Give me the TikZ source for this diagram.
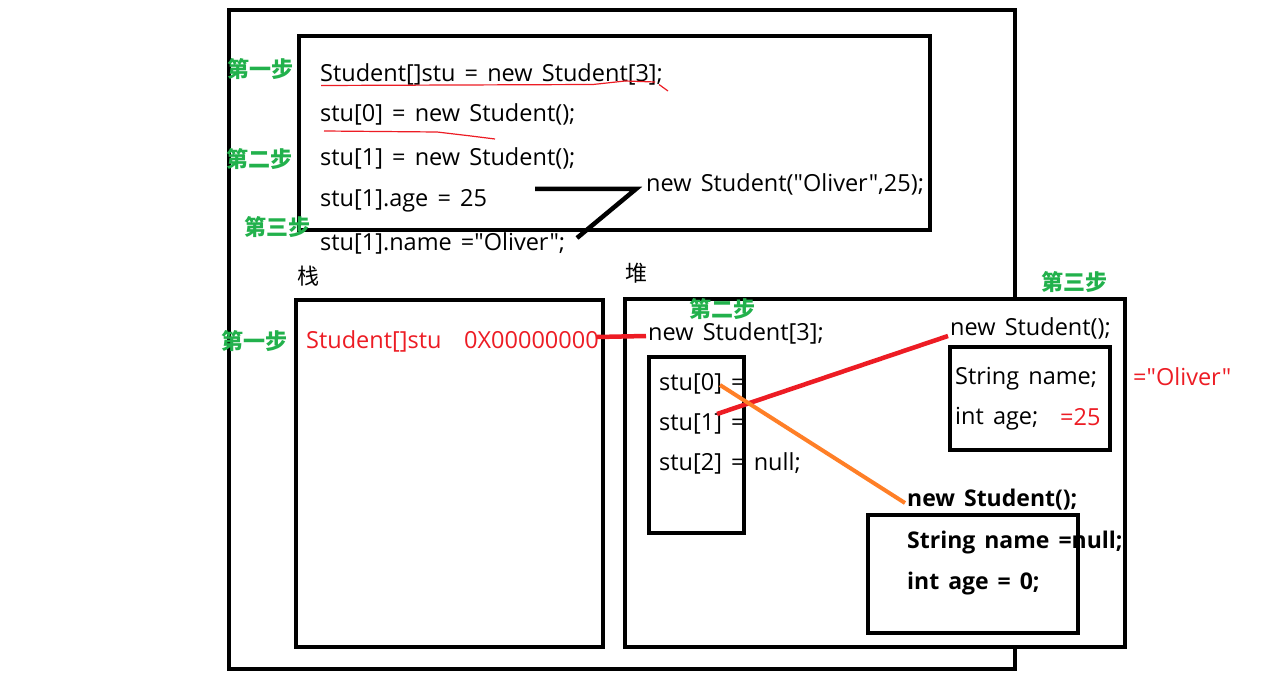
\documentclass[tikz,border=0pt]{standalone}
\usepackage{fontspec}
\setmainfont{Open Sans}[Ligatures=TeXOff, WordSpace=1.5]
\newfontfamily\cjk{Noto Sans CJK SC}
\definecolor{pgreen}{RGB}{34,177,76}
\definecolor{pred}{RGB}{237,28,36}
\definecolor{porange}{RGB}{255,127,39}
\begin{document}
\begin{tikzpicture}[x=1pt,y=-1pt,
  frame/.style={draw, line width=4pt, fill=white, inner sep=0pt, anchor=north west},
  openframe/.style={draw, line width=4pt, inner sep=0pt, anchor=north west},
  code/.style={anchor=base west, inner sep=0pt, font=\fontsize{23.5}{27}\selectfont},
  bcode/.style={code, font=\fontsize{23}{27}\selectfont\bfseries},
  rcode/.style={code, text=pred},
  stepl/.style={anchor=base west, inner sep=0pt, text=pgreen, font=\cjk\bfseries\fontsize{22}{26}\selectfont},
  cjkl/.style={anchor=base west, inner sep=0pt, font=\cjk\fontsize{22}{26}\selectfont},
  redline/.style={draw=pred, line width=4.5pt},
  orangeline/.style={draw=porange, line width=4pt},
  blackline/.style={draw=black, line width=4.5pt},
  underl/.style={draw=pred, line width=1.2pt}]
\useasboundingbox (0,0) rectangle (1274,695);
\fill[white] (0,0) rectangle (1274,695);
% frames
\node[frame, minimum width=786pt, minimum height=659pt] (outer) at (227,8) {};
\node[frame, minimum width=631pt, minimum height=194pt] (codebox) at (297,34) {};
\node[frame, minimum width=307pt, minimum height=347pt] (stack) at (294,298) {};
\node[frame, minimum width=500pt, minimum height=348pt] (heap) at (623,297) {};
\node[frame, minimum width=160pt, minimum height=103pt] (obj1) at (948,345) {};
\node[frame, minimum width=210pt, minimum height=118pt] (obj2) at (866,513) {};
% code lines
\node[code] (l1) at (320,82) {Student[]stu = new Student[3];};
\node[code] (l2) at (320,122) {stu[0] = new Student();};
\node[code] (l3) at (320,166) {stu[1] = new Student();};
\node[code] (l4) at (320,207) {stu[1].age = 25};
\node[code] (l5) at (320,251) {stu[1].name ="Oliver";};
\node[code] (ctor) at (646,192) {new Student("Oliver",25);};
\node[stepl] (s1) at (227,78) {第一步};
\node[stepl] (s2) at (226,168) {第二步};
\node[stepl] (s3) at (244,236) {第三步};
% underlines
\draw[underl] (321,85.5) -- (593,84.5) -- (625,81) -- (655,82);
\draw[underl] (659,84.5) -- (668,91);
\draw[underl] (324,131) -- (437,132) -- (471,136) -- (495,139);
% black connector
\coordinate (k1) at (535,189);
\coordinate (k2) at (636,189);
\coordinate (k3) at (577,238);
\draw[blackline] (k1) -- (k2) -- (k3);
% stack / heap labels
\node[cjkl] (zhan) at (297,284) {栈};
\node[cjkl] (dui) at (625,281) {堆};
\node[stepl] (s4) at (221,349) {第一步};
\node[rcode] (ref) at (306,348) {Student[]stu};
\node[rcode] (addr) at (464,348) {0X00000000};
\node[stepl] (s5) at (689,317) {第二步};
\node[code] (arr) at (648,340) {new Student[3];};
\coordinate (a1) at (597,337);
\coordinate (a2) at (646,336);
\draw[redline] (a1) -- (a2);
% array box and elements
\node[code] (e0) at (659,390) {stu[0] =};
\node[code] (e1) at (659,430) {stu[1] =};
\node[code] (e2) at (659,470) {stu[2] = null;};
\node[openframe, minimum width=95pt, minimum height=176pt] (arrbox) at (647,355) {};
% object 1
\node[stepl] (s6) at (1041,290) {第三步};
\node[code] (n1) at (950,335) {new Student();};
\node[code] (f1) at (955,384) {String name;};
\node[code] (f2) at (955,424) {int age;};
\node[rcode] (v2) at (1060,425) {=25};
\node[rcode] (v1) at (1133,385) {="Oliver"};
% object 2
\node[bcode] (n2) at (907,506) {new Student();};
\node[bcode] (g1) at (907,548) {String name =null;};
\node[bcode] (g2) at (907,589) {int age = 0;};
% connectors
\coordinate (p1) at (717,414);
\coordinate (q1) at (948,336);
\draw[redline] (p1) -- (q1);
\coordinate (p0) at (720,385);
\coordinate (q0) at (905,503);
\draw[orangeline] (p0) -- (q0);
\end{tikzpicture}
\end{document}
